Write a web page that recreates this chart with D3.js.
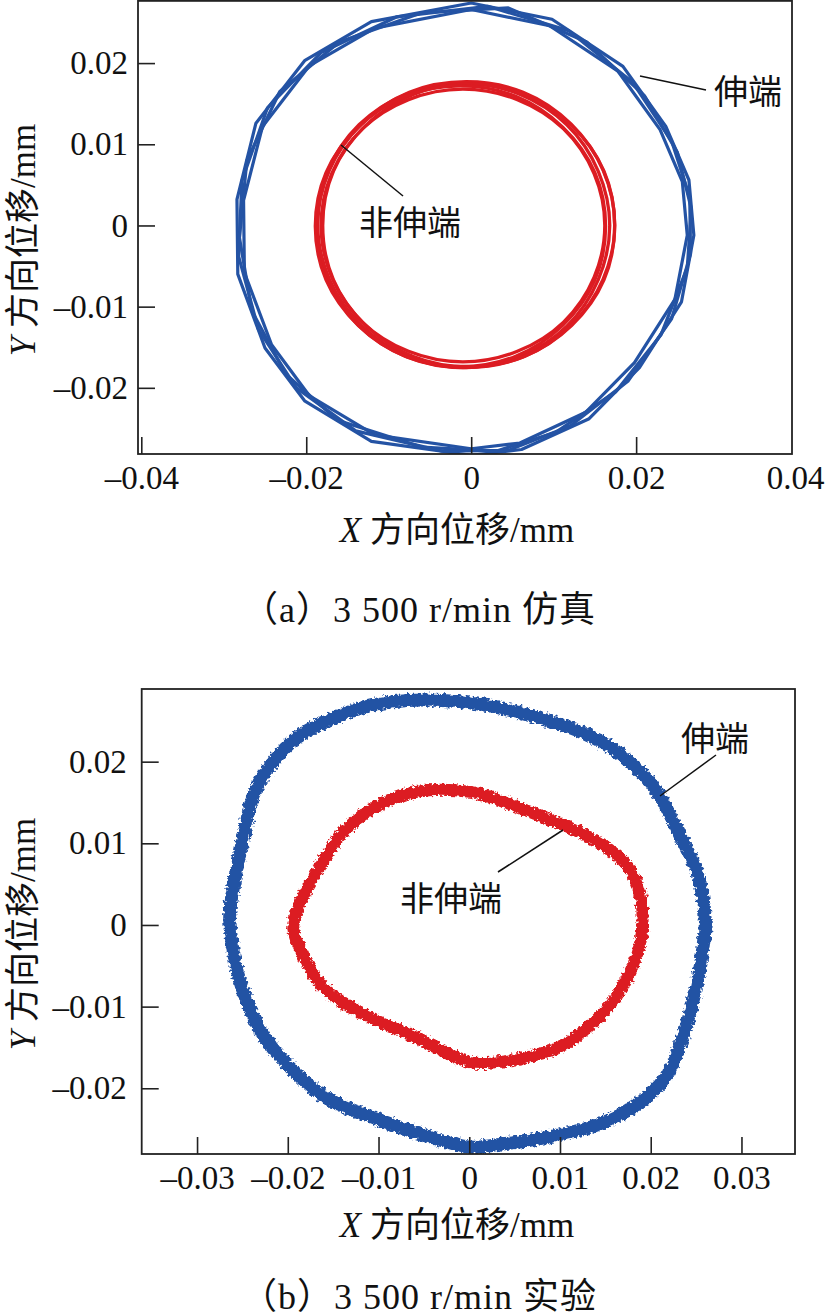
<!DOCTYPE html>
<html><head><meta charset="utf-8">
<script src="https://cdn.jsdelivr.net/npm/d3@7"></script>
<style>body{margin:0;background:#fff}svg{display:block}</style>
</head><body>
<svg id="c" width="828" height="1316"></svg>
<script>
// ---------- tick values ----------
const xTicksA = [-0.04, -0.02, 0, 0.02, 0.04];
const yTicksA = [-0.02, -0.01, 0, 0.01, 0.02];
const xTicksB = [-0.03, -0.02, -0.01, 0, 0.01, 0.02, 0.03];
const yTicksB = [-0.02, -0.01, 0, 0.01, 0.02];

// ---------- (a) simulation: drive end (伸端), several revolutions ----------
const simDrive1 = [[0.0000,0.0274],[0.0098,0.0254],[0.0184,0.0196],[0.0236,0.0122],[0.0264,0.0056],[0.0270,-0.0012],[0.0255,-0.0094],[0.0204,-0.0175],[0.0143,-0.0238],[0.0061,-0.0276],[0.0000,-0.0283],[-0.0121,-0.0266],[-0.0202,-0.0216],[-0.0250,-0.0151],[-0.0283,-0.0060],[-0.0284,0.0032],[-0.0261,0.0126],[-0.0202,0.0203],[-0.0121,0.0251]];
const simDrive2 = [[0.0000,0.0266],[0.0095,0.0246],[0.0178,0.0190],[0.0229,0.0118],[0.0256,0.0054],[0.0262,-0.0012],[0.0247,-0.0091],[0.0198,-0.0169],[0.0139,-0.0230],[0.0059,-0.0268],[0.0000,-0.0275],[-0.0117,-0.0258],[-0.0196,-0.0210],[-0.0242,-0.0147],[-0.0275,-0.0058],[-0.0276,0.0031],[-0.0253,0.0122],[-0.0196,0.0197],[-0.0117,0.0243]];
const simDrive3 = [[0.0045,0.0268],[0.0140,0.0226],[0.0210,0.0160],[0.0250,0.0090],[0.0267,0.0020],[0.0262,-0.0052],[0.0230,-0.0135],[0.0175,-0.0205],[0.0102,-0.0255],[0.0030,-0.0278],[-0.0060,-0.0273],[-0.0162,-0.0240],[-0.0225,-0.0183],[-0.0266,-0.0105],[-0.0281,-0.0015],[-0.0272,0.0080],[-0.0232,0.0165],[-0.0160,0.0226],[-0.0060,0.0262]];
const simDrive4 = [[0.0020,0.0270],[0.0118,0.0240],[0.0196,0.0176],[0.0243,0.0104],[0.0265,0.0035],[0.0266,-0.0035],[0.0243,-0.0115],[0.0190,-0.0192],[0.0120,-0.0247],[0.0045,-0.0277],[-0.0035,-0.0278],[-0.0140,-0.0253],[-0.0212,-0.0200],[-0.0258,-0.0128],[-0.0282,-0.0038],[-0.0278,0.0055],[-0.0247,0.0145],[-0.0182,0.0213],[-0.0090,0.0257]];

// ---------- (a) simulation: non-drive end (非伸端) ----------
const simFree1 = [[0.0168,0],[0.0154,0.0067],[0.0116,0.0124],[0.0058,0.0162],[-0.0010,0.0175],[-0.0078,0.0162],[-0.0136,0.0124],[-0.0174,0.0067],[-0.0188,0],[-0.0174,-0.0067],[-0.0136,-0.0124],[-0.0078,-0.0162],[-0.0010,-0.0175],[0.0058,-0.0162],[0.0116,-0.0124],[0.0154,-0.0067]];
const simFree2 = [[0.0174,0.0001],[0.0160,0.0068],[0.0121,0.0125],[0.0063,0.0164],[-0.0006,0.0177],[-0.0075,0.0164],[-0.0133,0.0125],[-0.0172,0.0068],[-0.0186,0.0001],[-0.0172,-0.0066],[-0.0133,-0.0123],[-0.0075,-0.0162],[-0.0006,-0.0175],[0.0063,-0.0162],[0.0121,-0.0123],[0.0160,-0.0066]];
const simFree3 = [[0.0162,0],[0.0149,0.0064],[0.0112,0.0119],[0.0056,0.0155],[-0.0010,0.0168],[-0.0076,0.0155],[-0.0132,0.0119],[-0.0169,0.0064],[-0.0182,0],[-0.0169,-0.0064],[-0.0132,-0.0119],[-0.0076,-0.0155],[-0.0010,-0.0168],[0.0056,-0.0155],[0.0112,-0.0119],[0.0149,-0.0064]];
const simFree4 = [[0.0174,0],[0.0161,0.0067],[0.0122,0.0123],[0.0065,0.0161],[-0.0003,0.0174],[-0.0071,0.0161],[-0.0128,0.0123],[-0.0167,0.0067],[-0.0180,0],[-0.0167,-0.0067],[-0.0128,-0.0123],[-0.0071,-0.0161],[-0.0003,-0.0174],[0.0065,-0.0161],[0.0122,-0.0123],[0.0161,-0.0067]];
const simFree5 = [[0.0163,-0.0001],[0.0150,0.0065],[0.0111,0.0121],[0.0054,0.0159],[-0.0013,0.0172],[-0.0080,0.0159],[-0.0137,0.0121],[-0.0176,0.0065],[-0.0189,-0.0001],[-0.0176,-0.0067],[-0.0137,-0.0123],[-0.0080,-0.0161],[-0.0013,-0.0174],[0.0054,-0.0161],[0.0111,-0.0123],[0.0150,-0.0067]];

// ---------- (b) experiment ----------
const expDrive = [[0.0001,0.0272],[0.0075,0.0254],[0.0130,0.0233],[0.0177,0.0200],[0.0207,0.0163],[0.0232,0.0110],[0.0251,0.0065],[0.0260,0.0009],[0.0258,-0.0024],[0.0251,-0.0073],[0.0236,-0.0135],[0.0218,-0.0184],[0.0185,-0.0220],[0.0141,-0.0245],[0.0081,-0.0261],[0.0031,-0.0269],[0.0001,-0.0272],[-0.0051,-0.0257],[-0.0106,-0.0236],[-0.0157,-0.0212],[-0.0197,-0.0175],[-0.0227,-0.0135],[-0.0249,-0.0082],[-0.0260,-0.0033],[-0.0264,0.0012],[-0.0258,0.0058],[-0.0249,0.0107],[-0.0238,0.0159],[-0.0216,0.0200],[-0.0190,0.0229],[-0.0142,0.0257],[-0.0087,0.0273]];
const expFree = [[0.0001,0.0163],[0.0037,0.0151],[0.0075,0.0135],[0.0111,0.0119],[0.0147,0.0098],[0.0174,0.0073],[0.0188,0.0040],[0.0191,0.0009],[0.0188,-0.0024],[0.0174,-0.0065],[0.0155,-0.0098],[0.0125,-0.0131],[0.0097,-0.0151],[0.0059,-0.0163],[0.0019,-0.0169],[0.0001,-0.0168],[-0.0021,-0.0159],[-0.0058,-0.0138],[-0.0098,-0.0119],[-0.0135,-0.0098],[-0.0164,-0.0073],[-0.0183,-0.0037],[-0.0194,-0.0004],[-0.0186,0.0028],[-0.0168,0.0065],[-0.0142,0.0110],[-0.0106,0.0143],[-0.0058,0.0163]];

const FONT = "'Liberation Serif','Noto Sans CJK SC',serif";
const BLUE = "#2453a4", RED = "#dc1c22";
const svg = d3.select("#c");

const defs = svg.append("defs");
const flt = defs.append("filter").attr("id","rough").attr("x","-10%").attr("y","-10%").attr("width","120%").attr("height","120%");
flt.append("feTurbulence").attr("type","fractalNoise").attr("baseFrequency","0.3").attr("numOctaves",3).attr("seed",4).attr("result","n");
flt.append("feDisplacementMap").attr("in","SourceGraphic").attr("in2","n").attr("scale",7).attr("xChannelSelector","R").attr("yChannelSelector","G");

function fmt(v){ if (Math.abs(v) < 1e-12) return "0"; return (v < 0 ? "\u2013" : "") + String(+Math.abs(v).toFixed(2)); }

function panel(o){
  const x = d3.scaleLinear().domain(o.xd).range(o.xr);
  const y = d3.scaleLinear().domain(o.yd).range(o.yr);
  const id = "clip" + o.key;
  defs.append("clipPath").attr("id", id).append("rect")
    .attr("x", o.xr[0]).attr("y", o.yr[1]).attr("width", o.xr[1]-o.xr[0]).attr("height", o.yr[0]-o.yr[1]);
  const g = svg.append("g").attr("clip-path", `url(#${id})`);
  const line = d3.line().x(d => x(d[0])).y(d => y(d[1]));
  o.draw(g, x, y, line);

  // axes
  const ax = d3.axisBottom(x).tickValues(o.xt).tickFormat(fmt).tickSizeInner(-17).tickSizeOuter(0).tickPadding(12);
  const gx = svg.append("g").attr("transform", `translate(0,${o.yr[0]})`).call(ax);
  const outside = gx.selectAll(".tick").filter(d => d > o.xd[1] || d < o.xd[0]);
  outside.select("line").remove();
  outside.select("text").attr("dx", -6);
  const ay = d3.axisLeft(y).tickValues(o.yt).tickFormat(fmt).tickSizeInner(-17).tickSizeOuter(0).tickPadding(o.ypad);
  const gy = svg.append("g").attr("transform", `translate(${o.xr[0]},0)`).call(ay);
  [gx, gy].forEach(a => {
    a.select(".domain").remove();
    a.selectAll("line").attr("stroke","#222").attr("stroke-width",1.6);
    a.selectAll("text").attr("font-family", FONT).attr("font-size", 33).attr("fill","#111");
  });
  // frame
  svg.append("rect").attr("x", o.xr[0]).attr("y", o.yr[1]).attr("width", o.xr[1]-o.xr[0]).attr("height", o.yr[0]-o.yr[1])
    .attr("fill","none").attr("stroke","#222").attr("stroke-width",1.8);

  // axis titles
  const tx = svg.append("text").attr("x", 457).attr("y", o.xTitleY).attr("text-anchor","middle")
    .attr("font-family", FONT).attr("font-size", 35).attr("fill","#111");
  tx.append("tspan").attr("font-style","italic").text("X");
  tx.append("tspan").text(" 方向位移/mm");
  const ty = svg.append("text").attr("transform", `translate(35,${o.yTitleC}) rotate(-90)`).attr("text-anchor","middle")
    .attr("font-family", FONT).attr("font-size", 35).attr("fill","#111");
  ty.append("tspan").attr("font-style","italic").text("Y");
  ty.append("tspan").text(" 方向位移/mm");

  // caption
  svg.append("text").attr("x", 419).attr("y", o.capY).attr("text-anchor","middle")
    .attr("font-family", FONT).attr("font-size", 36).attr("letter-spacing", 1).attr("fill","#111").text(o.caption);

  // annotations
  o.notes.forEach(n => {
    svg.append("line").attr("x1", n.l[0]).attr("y1", n.l[1]).attr("x2", n.l[2]).attr("y2", n.l[3])
      .attr("stroke","#111").attr("stroke-width",1.5);
    svg.append("text").attr("x", n.t[0]).attr("y", n.t[1]).attr("font-family", FONT).attr("font-size", 34)
      .attr("fill","#111").text(n.s);
  });
}

panel({
  key: "a", xd: [-0.0404, 0.0389], xr: [138, 792], yd: [-0.02815, 0.02766], yr: [454, 0.9],
  xt: xTicksA, yt: yTicksA, ypad: 10, xTitleY: 542, yTitleC: 240, capY: 622,
  caption: "（a）3 500 r/min 仿真",
  draw: (g, x, y, line) => {
    const lc = line.curve(d3.curveLinearClosed);
    [simDrive1, simDrive2, simDrive3, simDrive4].forEach(d =>
      g.append("path").attr("d", lc(d)).attr("fill","none").attr("stroke", BLUE).attr("stroke-width", 3.2).attr("stroke-linejoin","round"));
    const rc = d3.line().x(d => x(d[0])).y(d => y(d[1])).curve(d3.curveCatmullRomClosed.alpha(0.5));
    [simFree1, simFree2, simFree3, simFree4, simFree5].forEach(d =>
      g.append("path").attr("d", rc(d)).attr("fill","none").attr("stroke", RED).attr("stroke-width", 3.3));
  },
  notes: [
    { s: "伸端", t: [714, 104], l: [640, 76, 706, 90] },
    { s: "非伸端", t: [359, 235], l: [341, 145, 403, 196] }
  ]
});

panel({
  key: "b", xd: [-0.0361, 0.0359], xr: [141.7, 795], yd: [-0.02805, 0.0289], yr: [1154, 689],
  xt: xTicksB, yt: yTicksB, ypad: 15, xTitleY: 1237, yTitleC: 934, capY: 1309,
  caption: "（b）3 500 r/min 实验",
  draw: (g, x, y, line) => {
    const c = d3.line().x(d => x(d[0])).y(d => y(d[1])).curve(d3.curveCatmullRomClosed.alpha(0.5));
    const gg = g.append("g").attr("filter","url(#rough)");
    gg.append("path").attr("d", c(expDrive)).attr("fill","none").attr("stroke", BLUE).attr("stroke-width", 13);
    gg.append("path").attr("d", c(expFree)).attr("fill","none").attr("stroke", RED).attr("stroke-width", 12);
  },
  notes: [
    { s: "伸端", t: [681, 751], l: [660, 796, 716, 755] },
    { s: "非伸端", t: [400, 911], l: [563, 830, 498, 872] }
  ]
});
</script>
</body></html>
